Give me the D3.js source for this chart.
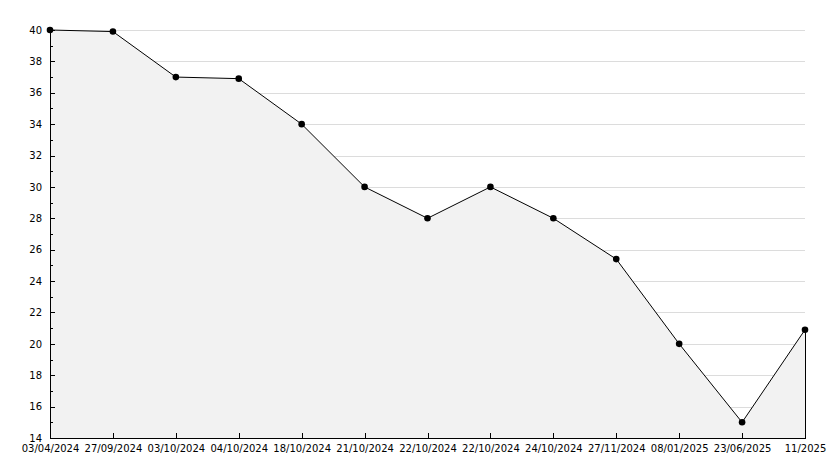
<!DOCTYPE html>
<html>
<head>
<meta charset="utf-8">
<script src="https://cdn.jsdelivr.net/npm/d3@7"></script>
<style>
  body { margin: 0; background: #fff; }
  svg { display: block; }
  .axis text { font-family: "DejaVu Sans", Verdana, sans-serif; font-size: 10px; fill: #000; }
  .axis path, .axis line { stroke: #000; shape-rendering: crispEdges; }
  .grid line { stroke: #dcdcdc; shape-rendering: crispEdges; }
</style>
</head>
<body>
<script>
// categories along the bottom, one per measurement
var dates = ["03/04/2024", "27/09/2024", "03/10/2024", "04/10/2024", "18/10/2024",
             "21/10/2024", "22/10/2024", "22/10/2024", "24/10/2024", "27/11/2024",
             "08/01/2025", "23/06/2025", "11/2025"];
var values = [40, 39.9, 37, 36.9, 34, 30, 28, 30, 28, 25.4, 20, 15, 20.9];
var yMajor = [14, 16, 18, 20, 22, 24, 26, 28, 30, 32, 34, 36, 38, 40];
var yMinor = [15, 17, 19, 21, 23, 25, 27, 29, 31, 33, 35, 37, 39];

var width = 834, height = 468;
var margin = {top: 30, right: 29, bottom: 30, left: 50};
var w = width - margin.left - margin.right,
    h = height - margin.top - margin.bottom;

var svg = d3.select("body").append("svg")
    .attr("width", width)
    .attr("height", height)
  .append("g")
    .attr("transform", "translate(" + margin.left + "," + margin.top + ")");

var x = d3.scalePoint()
    .domain(d3.range(dates.length))
    .range([0, w]);

var y = d3.scaleLinear()
    .domain([14, 40])
    .range([h, 0]);

// horizontal grid
svg.append("g")
    .attr("class", "grid")
  .selectAll("line")
    .data(yMajor.slice(1))
  .enter().append("line")
    .attr("x1", 0)
    .attr("x2", w)
    .attr("y1", function(d) { return Math.round(y(d)) + 0.5; })
    .attr("y2", function(d) { return Math.round(y(d)) + 0.5; });

var area = d3.area()
    .x(function(d, i) { return x(i); })
    .y0(h)
    .y1(function(d) { return y(d); });

svg.append("path")
    .datum(values)
    .attr("d", area)
    .attr("fill", "#f2f2f2");

var line = d3.line()
    .x(function(d, i) { return x(i); })
    .y(function(d) { return y(d); });

svg.append("path")
    .datum(values)
    .attr("d", line)
    .attr("fill", "none")
    .attr("stroke", "#000")
    .attr("stroke-width", 1);

// right edge of the filled area
svg.append("line")
    .attr("x1", x(values.length - 1))
    .attr("x2", x(values.length - 1))
    .attr("y1", y(values[values.length - 1]))
    .attr("y2", h)
    .attr("stroke", "#000")
    .attr("shape-rendering", "crispEdges");

// y axis: minor ticks first, then labelled majors
svg.append("g")
    .attr("class", "axis")
    .call(d3.axisLeft(y)
        .tickValues(yMinor)
        .tickSizeInner(-3)
        .tickSizeOuter(0)
        .tickFormat(""));

svg.append("g")
    .attr("class", "axis")
    .call(d3.axisLeft(y)
        .tickValues(yMajor)
        .tickSizeInner(-5)
        .tickSizeOuter(0)
        .tickPadding(8)
        .tickFormat(d3.format("d")));

svg.append("g")
    .attr("class", "axis")
    .attr("transform", "translate(0," + h + ")")
    .call(d3.axisBottom(x)
        .tickSizeInner(-5)
        .tickSizeOuter(0)
        .tickPadding(7)
        .tickFormat(function(i) { return dates[i]; }));

// point markers
svg.append("g")
  .selectAll("circle")
    .data(values)
  .enter().append("circle")
    .attr("cx", function(d, i) { return x(i); })
    .attr("cy", function(d) { return y(d); })
    .attr("r", 3.3)
    .attr("fill", "#000");
</script>
</body>
</html>
